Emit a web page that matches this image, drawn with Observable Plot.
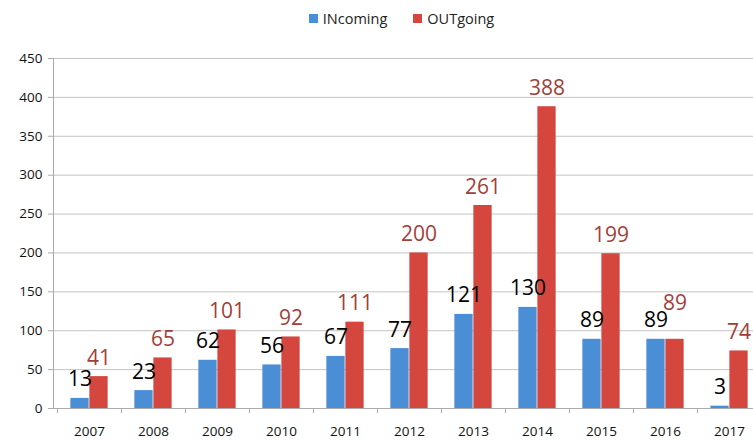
<!DOCTYPE html>
<html><head><meta charset="utf-8">
<script src="https://cdn.jsdelivr.net/npm/d3@7"></script>
<script src="https://cdn.jsdelivr.net/npm/@observablehq/plot@0.6"></script>
<style>
body{margin:0;background:#fff;font-family:"Open Sans",sans-serif;}
#legend{height:36px;display:flex;justify-content:center;align-items:center;gap:26px;font-size:14.5px;color:#222;padding-left:50px;box-sizing:border-box;width:753px;}
#legend span.sw{display:inline-block;width:9px;height:9px;margin-right:5px;vertical-align:1px;}
svg{display:block;overflow:hidden}
</style></head>
<body>
<div id="legend"><div><span class="sw" style="background:#4a8ed6"></span>INcoming</div><div><span class="sw" style="background:#d4463e"></span>OUTgoing</div></div>
<div id="chart"></div>
<script>
const years = ["2007","2008","2009","2010","2011","2012","2013","2014","2015","2016","2017"];
const incoming = [13,23,62,56,67,77,121,130,89,89,3];
const outgoing = [41,65,101,92,111,200,261,388,199,89,74];
const yTicks = [0,50,100,150,200,250,300,350,400,450];
const seriesNames = ["INcoming","OUTgoing"];

const data = years.flatMap((y,i)=>[
  {year:y, series:seriesNames[0], value:incoming[i], other:outgoing[i]},
  {year:y, series:seriesNames[1], value:outgoing[i], other:incoming[i]}
]);
const W = 753, H = 404;
const xRange = [53, 765];
const step = (xRange[1]-xRange[0])/years.length;
const barW = 19;
const innerInset = step/2 - barW;
const outerInset = step/2;
const blue = "#4a8ed6", red = "#d4463e", redText = "#a03f3a";

const inc = data.filter(d=>d.series==="INcoming");
const out = data.filter(d=>d.series==="OUTgoing");
const outNormal = out.filter(d=>d.value!==d.other);
const outLifted = out.filter(d=>d.value===d.other);

const plot = Plot.plot({
  width: W, height: H,
  marginTop: 22, marginBottom: 32, marginLeft: 53, marginRight: 0,
  style: {fontFamily: "Open Sans, sans-serif", fontSize: "13.5px", color:"#111", overflow:"hidden"},
  x: {domain: years, range: xRange, padding: 0, label: null},
  y: {domain: [0,450], label: null},
  marks: [
    Plot.ruleY(yTicks.filter(t=>t>0), {stroke:"#c4c4c4", strokeWidth:1}),
    Plot.barY(inc, {x:"year", y:"value", fill: blue, insetLeft: innerInset, insetRight: outerInset}),
    Plot.barY(out, {x:"year", y:"value", fill: red, insetLeft: outerInset, insetRight: innerInset}),
    Plot.ruleY([0], {stroke:"#aaa", strokeWidth:1}),
    Plot.axisY({ticks: yTicks, tickSize: 5, tickPadding: 6, stroke:"#aaa", fill:"#111", fontSize: 13.5, label:null}),
    Plot.axisX({tickSize: 0, tickPadding: 18, fill:"#111", fontSize: 13.5, label:null}),
    Plot.text(inc, {x:"year", y:"value", text: d=>String(d.value), dx: -barW/2, dy: -12, lineAnchor:"bottom", fill:"#000", fontSize: 21}),
    Plot.text(outNormal, {x:"year", y:"value", text: d=>String(d.value), dx: barW/2, dy: -12, lineAnchor:"bottom", fill: redText, fontSize: 21}),
    Plot.text(outLifted, {x:"year", y:"value", text: d=>String(d.value), dx: barW/2, dy: -29, lineAnchor:"bottom", fill: redText, fontSize: 21})
  ]
});

const sel = d3.select(plot);
const xs = plot.scale("x"), ys = plot.scale("y");
const g = sel.append("g").attr("stroke","#aaa").attr("stroke-width",1);
const y0 = ys.apply(0);
g.append("line").attr("x1",53.5).attr("x2",53.5).attr("y1",ys.apply(450)).attr("y2",y0);
years.forEach((yr,i)=>{
  const bx = Math.round(xs.apply(yr)) + 0.5;
  g.append("line").attr("x1",bx).attr("x2",bx).attr("y1",y0).attr("y2",y0+5);
});
document.getElementById("chart").appendChild(plot);
</script>
</body></html>
